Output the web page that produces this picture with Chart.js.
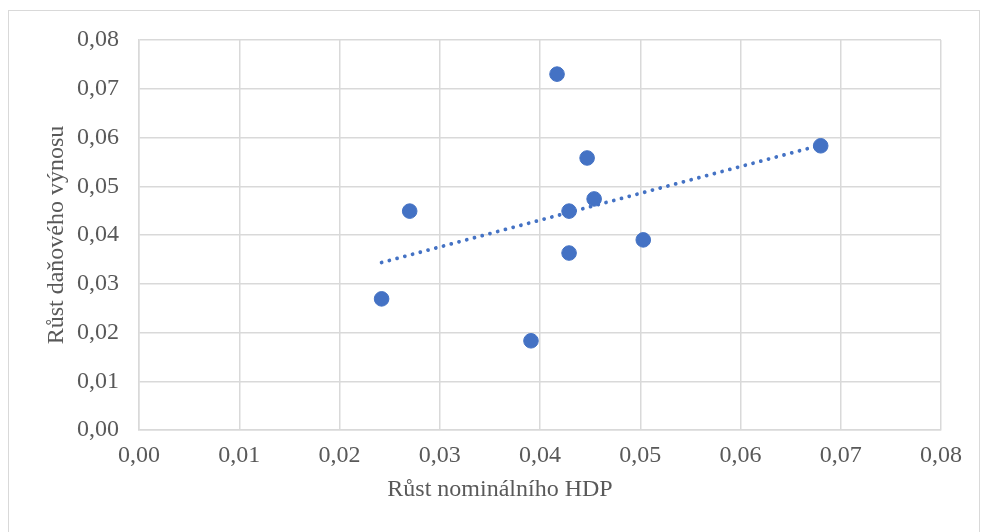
<!DOCTYPE html>
<html>
<head>
<meta charset="utf-8">
<script src="https://cdn.jsdelivr.net/npm/chart.js@4.4.1/dist/chart.umd.min.js"></script>
<style>
  html, body { margin: 0; padding: 0; background: #fff; }
  body { width: 981px; height: 532px; position: relative; overflow: hidden; }
  #frame { position: absolute; left: 8px; top: 10px; width: 972px; height: 540px; border: 1px solid #d9d9d9; box-sizing: border-box; }
  #wrap { position: absolute; left: 0; top: 0; width: 981px; height: 532px; }
</style>
</head>
<body>
<div id="frame"></div>
<div id="wrap"><canvas id="c" width="981" height="532"></canvas></div>
<script>
// Nominal GDP growth vs. tax revenue growth
const gdpGrowth = [0.0242, 0.0270, 0.0391, 0.0417, 0.0429, 0.0429, 0.0447, 0.0454, 0.0503, 0.0680];
const taxGrowth = [0.0269, 0.0449, 0.0183, 0.0730, 0.0449, 0.0363, 0.0558, 0.0474, 0.0390, 0.0583];
const axisTicks = [0, 0.01, 0.02, 0.03, 0.04, 0.05, 0.06, 0.07, 0.08];
const xTitle = 'Růst nominálního HDP';
const yTitle = 'Růst daňového výnosu';

// Least-squares linear trend over the observations
function linearTrend(xs, ys) {
  const n = xs.length;
  const mx = xs.reduce((a, b) => a + b, 0) / n;
  const my = ys.reduce((a, b) => a + b, 0) / n;
  let sxy = 0, sxx = 0;
  for (let i = 0; i < n; i++) {
    sxy += (xs[i] - mx) * (ys[i] - my);
    sxx += (xs[i] - mx) * (xs[i] - mx);
  }
  const slope = sxy / sxx;
  const x0 = Math.min(...xs), x1 = Math.max(...xs);
  return [
    { x: x0, y: my + slope * (x0 - mx) },
    { x: x1, y: my + slope * (x1 - mx) }
  ];
}

const points = gdpGrowth.map((x, i) => ({ x, y: taxGrowth[i] }));
const trend = linearTrend(gdpGrowth, taxGrowth);

const fmt = v => v.toFixed(2).replace('.', ',');
const blue = '#4472C4';
const grey = '#595959';
const gridColor = '#d9d9d9';
const serif = "'Liberation Serif', 'Times New Roman', serif";

// Horizontal axis title, set slightly left of the plot centre
const xTitlePlugin = {
  id: 'xTitle',
  afterDraw(chart) {
    const ctx = chart.ctx;
    ctx.save();
    ctx.font = "24px " + serif;
    ctx.fillStyle = grey;
    ctx.textAlign = 'center';
    ctx.textBaseline = 'middle';
    ctx.fillText(xTitle, 500, 490);
    ctx.restore();
  }
};

new Chart(document.getElementById('c'), {
  type: 'scatter',
  data: {
    datasets: [
      {
        label: 'trend',
        data: trend,
        showLine: true,
        borderColor: blue,
        borderWidth: 3.8,
        borderDash: [0.01, 8],
        borderCapStyle: 'round',
        pointRadius: 0,
        fill: false,
        order: 2
      },
      {
        label: 'data',
        data: points,
        backgroundColor: blue,
        borderColor: blue,
        pointRadius: 7.3,
        pointHoverRadius: 7.3,
        order: 1
      }
    ]
  },
  plugins: [xTitlePlugin],
  options: {
    responsive: false,
    animation: false,
    events: [],
    layout: { padding: { top: 40, right: 40, left: 0, bottom: 0 } },
    plugins: { legend: { display: false }, tooltip: { enabled: false } },
    scales: {
      x: {
        type: 'linear',
        min: 0, max: 0.08,
        afterBuildTicks: s => { s.ticks = axisTicks.map(v => ({ value: v })); },
        afterFit: s => { s.height = 102; },
        grid: { color: gridColor, lineWidth: 1.5, drawTicks: false },
        border: { color: gridColor, width: 1.5 },
        ticks: { color: grey, padding: 11, maxRotation: 0, font: { family: serif, size: 24 }, callback: v => fmt(v) },
        title: { display: false }
      },
      y: {
        type: 'linear',
        min: 0, max: 0.08,
        afterBuildTicks: s => { s.ticks = axisTicks.map(v => ({ value: v })); },
        afterFit: s => { s.width = 139; },
        grid: { color: gridColor, lineWidth: 1.5, drawTicks: false },
        border: { color: gridColor, width: 1.5 },
        ticks: { color: grey, padding: 20, font: { family: serif, size: 24 }, callback: v => fmt(v) },
        title: { display: true, text: yTitle, color: grey, font: { family: serif, size: 24 }, padding: { top: 42, bottom: 0 } }
      }
    }
  }
});
</script>
</body>
</html>
